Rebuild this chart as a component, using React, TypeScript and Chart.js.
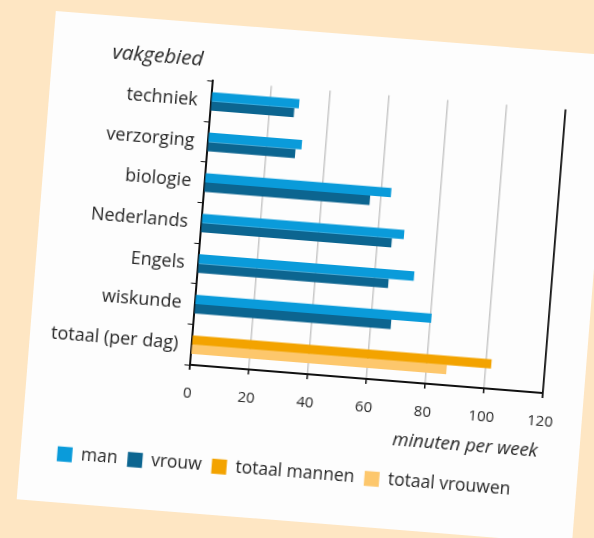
import React, { useEffect, useRef } from 'react';
import { Chart, registerables } from 'chart.js';

Chart.register(...registerables);

// ---- data ----
const categories = ['techniek', 'verzorging', 'biologie', 'Nederlands', 'Engels', 'wiskunde', 'totaal (per dag)'];
const manValues = [30, 32, 63.5, 69, 73.5, 80.5, null];
const vrouwValues = [28.5, 30, 56.5, 65, 65, 67, null];
const totaalMannenValues = [null, null, null, null, null, null, 102];
const totaalVrouwenValues = [null, null, null, null, null, null, 87];
const xTickValues = [0, 20, 40, 60, 80, 100, 120];
const seriesLabels = ['man', 'vrouw', 'totaal mannen', 'totaal vrouwen'];
const yTitle = 'vakgebied';
const xTitle = 'minuten per week';

// ---- styles ----
const COLORS = ['#0A9BDA', '#0C6590', '#F3A300', '#FDC76C'];
const FONT = "'Open Sans', 'Noto Sans', sans-serif";
const TEXT = '#262626';
const ANGLE = 4.58;

export default function App() {
  const canvasRef = useRef<HTMLCanvasElement | null>(null);

  useEffect(() => {
    const canvas = canvasRef.current;
    if (!canvas) return;
    const seriesData = [manValues, vrouwValues, totaalMannenValues, totaalVrouwenValues];
    const chart = new Chart(canvas, {
      type: 'bar',
      data: {
        labels: categories,
        datasets: seriesData.map((d, i) => ({
          label: seriesLabels[i],
          data: d,
          backgroundColor: COLORS[i],
          borderWidth: 0,
          skipNull: true,
          categoryPercentage: 0.46,
          barPercentage: 1,
        })) as any,
      },
      options: {
        indexAxis: 'y',
        animation: false,
        responsive: false,
        layout: { padding: { left: 12.6, right: 41.6, top: 57.4, bottom: 30 } },
        plugins: {
          tooltip: { enabled: false },
          legend: {
            position: 'bottom',
            labels: {
              boxWidth: 15,
              boxHeight: 15,
              padding: 10,
              color: TEXT,
              font: { family: FONT, size: 17.5 },
            },
          },
        },
        scales: {
          x: {
            type: 'linear',
            min: 0,
            max: 120,
            afterBuildTicks: (s: any) => {
              s.ticks = xTickValues.map((v) => ({ value: v }));
            },
            afterFit: (s: any) => {
              s.height = 80.4;
            },
            ticks: { color: TEXT, font: { family: FONT, size: 15 }, padding: 15 },
            grid: {
              color: (ctx: any) =>
                ctx.tick && (ctx.tick.value === 0 || ctx.tick.value === 120) ? '#111111' : '#c8c8c8',
              lineWidth: (ctx: any) =>
                ctx.tick && (ctx.tick.value === 0 || ctx.tick.value === 120) ? 1.8 : 1.5,
              tickColor: '#111111',
              tickLength: 5,
              drawTicks: true,
            },
            border: { display: true, color: '#111111', width: 2 },
            title: {
              display: true,
              text: xTitle,
              align: 'end',
              color: TEXT,
              font: { family: FONT, size: 18.5, style: 'italic' },
              padding: { top: 0, bottom: 10.8 },
            },
          },
          y: {
            type: 'category',
            ticks: { color: TEXT, font: { family: FONT, size: 18 }, padding: 8 },
            grid: {
              drawOnChartArea: false,
              drawTicks: true,
              tickLength: 5,
              tickColor: '#111111',
              offset: true,
            },
            border: { display: true, color: '#111111', width: 2 },
            afterFit: (s: any) => {
              s.width = 148.9;
            },
          },
        },
      } as any,
    });
    return () => chart.destroy();
  }, []);

  return (
    <div
      style={{
        position: 'fixed',
        left: 0,
        top: 0,
        width: 594,
        height: 538,
        background: '#FEE6C3',
        overflow: 'hidden',
      }}
    >
      <div
        style={{
          position: 'absolute',
          left: 0,
          top: 0,
          width: 594,
          height: 538,
          transform: `rotate(${ANGLE}deg)`,
          transformOrigin: '297px 269px',
        }}
      >
        <div
          style={{
            position: 'absolute',
            left: 35.5,
            top: 31,
            width: 557.5,
            height: 490,
            background: '#FDFDFD',
          }}
        />
        <canvas
          ref={canvasRef}
          width={557}
          height={490}
          style={{ position: 'absolute', left: 36, top: 31, width: 557, height: 490 }}
        />
        <div
          style={{
            position: 'absolute',
            left: 141.3,
            top: 65.8,
            transform: 'translate(-50%, -50%)',
            fontFamily: FONT,
            fontStyle: 'italic',
            fontSize: 20.5,
            color: TEXT,
            whiteSpace: 'nowrap',
          }}
        >
          {yTitle}
        </div>
      </div>
    </div>
  );
}
